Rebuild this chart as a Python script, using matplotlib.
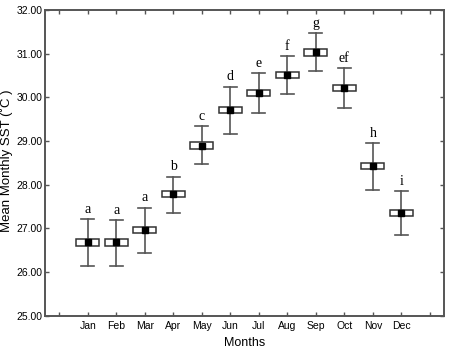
import matplotlib
matplotlib.use("Agg")
import matplotlib.pyplot as plt
from matplotlib.patches import Rectangle

# data
months = ['Jan', 'Feb', 'Mar', 'Apr', 'May', 'Jun', 'Jul', 'Aug', 'Sep', 'Oct', 'Nov', 'Dec']
mean_sst = [26.68, 26.68, 26.97, 27.78, 28.90, 29.72, 30.10, 30.51, 31.03, 30.22, 28.43, 27.36]
upper = [27.22, 27.19, 27.48, 28.19, 29.35, 30.25, 30.55, 30.95, 31.48, 30.68, 28.96, 27.86]
lower = [26.15, 26.15, 26.43, 27.36, 28.47, 29.16, 29.65, 30.08, 30.60, 29.76, 27.87, 26.85]
se = [0.07] * 12
groups = ['a', 'a', 'a', 'b', 'c', 'd', 'e', 'f', 'g', 'ef', 'h', 'i']

plt.rcParams['font.family'] = 'Liberation Sans'
line_col = '#555555'

fig = plt.figure(figsize=(4.5, 3.49), dpi=100)
ax = fig.add_axes([0.1, 0.095, 0.887, 0.876])

x = list(range(1, 13))
for i in range(12):
    xi = x[i]
    # whiskers
    ax.plot([xi, xi], [lower[i], upper[i]], color=line_col, lw=1.2, zorder=1)
    ax.plot([xi - 0.23, xi + 0.23], [upper[i], upper[i]], color=line_col, lw=1.2)
    ax.plot([xi - 0.23, xi + 0.23], [lower[i], lower[i]], color=line_col, lw=1.2)
    # box of mean +/- se
    ax.add_patch(Rectangle((xi - 0.4, mean_sst[i] - se[i]), 0.8, 2 * se[i],
                           facecolor='white', edgecolor='#333333', lw=1.1, zorder=2))
    ax.plot(xi, mean_sst[i], 's', color='black', ms=4, zorder=3)
    ax.text(xi, upper[i] + 0.07, groups[i], ha='center', va='bottom',
            fontsize=10, family='Liberation Serif')

ax.set_xlim(-0.5, 13.5)
ax.set_ylim(25, 32)
ax.set_xticks(range(0, 14))
ax.set_xticklabels([''] + months + [''], fontsize=7.5)
ax.set_yticks([25, 26, 27, 28, 29, 30, 31, 32])
ax.set_yticklabels(['%.2f' % v for v in [25, 26, 27, 28, 29, 30, 31, 32]], fontsize=7.5)
ax.tick_params(axis='both', direction='in', length=3, width=1, color=line_col,
               top=True, right=True, pad=4)
ax.tick_params(axis='y', pad=2)
for s in ax.spines.values():
    s.set_color(line_col)
    s.set_linewidth(1.4)

ax.set_xlabel('Months', fontsize=9, labelpad=4)
ax.set_ylabel('Mean Monthly SST (\u02daC )', fontsize=9.5)
ax.yaxis.set_label_coords(-0.08, 0.506)

fig.savefig('out.png', dpi=100)
